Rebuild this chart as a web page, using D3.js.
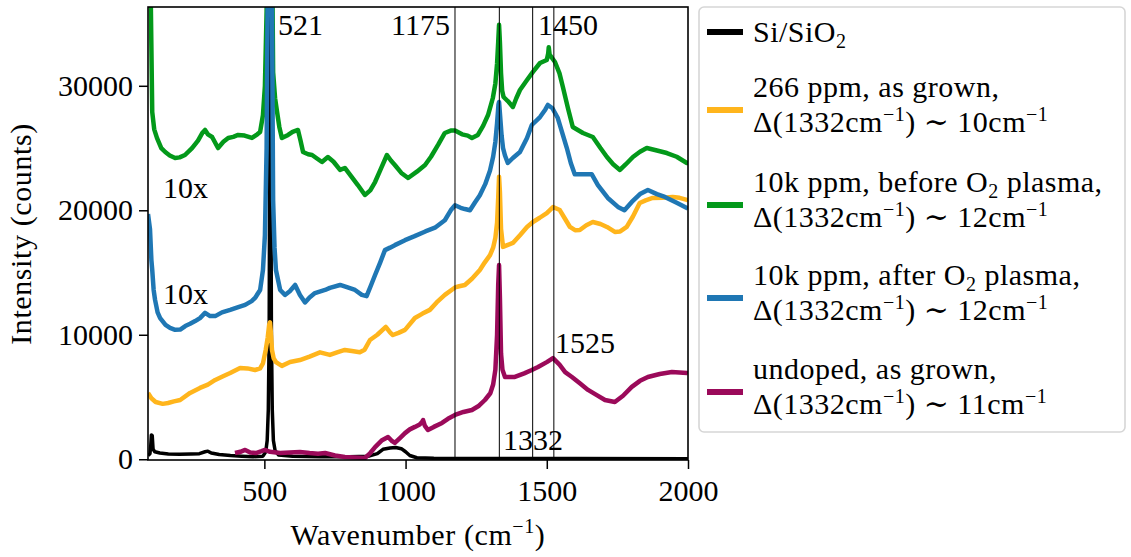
<!DOCTYPE html>
<html>
<head>
<meta charset="utf-8">
<script src="https://cdn.jsdelivr.net/npm/d3@7"></script>
<style>
  body { margin: 0; background: #fff; }
  text { font-family: "Liberation Serif", "DejaVu Serif", serif; fill: #000; }
</style>
</head>
<body>
<div id="chart"></div>
<script>
// spectra, [wavenumber, counts]
var siSiO2 = [[88,300],[95,450],[98,1200],[100,1950],[103,1900],[106,800],[112,600],[130,500],[160,430],[200,400],[240,420],[270,450],[290,600],[300,650],[312,500],[340,380],[380,300],[420,250],[460,200],[495,250],[505,600],[510,1500],[514,4000],[517,10000],[519,25000],[521,45000],[523,25000],[525,10000],[528,4000],[532,1500],[538,700],[550,350],[600,250],[700,200],[800,200],[870,250],[900,450],[920,800],[945,900],[965,950],[985,850],[1000,600],[1015,300],[1040,120],[1100,80],[1300,70],[1600,60],[2000,50]];

var ppm266 = [[88,5330],[100,4900],[115,4600],[140,4450],[159,4520],[180,4650],[202,4760],[237,5330],[272,5730],[300,6000],[326,6370],[352,6650],[379,6930],[414,7330],[440,7300],[467,7170],[485,7300],[495,7700],[505,8800],[512,9800],[517,10800],[520,11000],[523,10200],[527,8780],[533,8100],[541,7810],[562,7500],[591,7810],[626,7970],[660,8250],[697,8590],[732,8380],[760,8600],[785,8780],[810,8700],[838,8600],[855,8800],[874,9580],[900,10000],[930,10630],[945,10200],[955,9980],[975,10150],[998,10390],[1033,11350],[1060,11700],[1086,12000],[1110,12600],[1139,13200],[1175,13800],[1190,13900],[1210,14000],[1235,14500],[1263,15200],[1280,15800],[1299,16400],[1310,17000],[1318,17800],[1324,19000],[1328,21000],[1331,22700],[1334,21500],[1338,18500],[1345,17060],[1360,17200],[1380,17380],[1405,18000],[1430,18660],[1451,19060],[1475,19400],[1500,19780],[1522,20260],[1546,20020],[1565,19300],[1582,18660],[1600,18400],[1617,18420],[1640,18800],[1663,19060],[1690,18900],[1713,18660],[1741,18260],[1760,18300],[1783,18660],[1805,19500],[1829,20590],[1850,20800],[1875,20990],[1910,21000],[1946,21070],[1970,21000],[1996,20830],[2000,20800]];

var before10k = [[88,80000],[98,36500],[103,27900],[110,26500],[120,25800],[135,25000],[149,24680],[165,24400],[184,24200],[200,24250],[219,24440],[244,25000],[265,25600],[280,26200],[290,26450],[300,26100],[315,25890],[336,25000],[355,25500],[372,25810],[390,25900],[407,26050],[430,26000],[456,25810],[475,26100],[485,26290],[495,27650],[502,30000],[508,36000],[514,50000],[521,80000],[526,45000],[531,31100],[538,29000],[545,27900],[553,26700],[562,25800],[584,26050],[600,26300],[619,26450],[628,25600],[637,24680],[655,24500],[669,24440],[690,24100],[704,23880],[725,24280],[745,23900],[768,23240],[785,23400],[805,22800],[831,22030],[856,21230],[875,21600],[892,22270],[912,23300],[934,24440],[948,24000],[962,23640],[985,23000],[1009,22590],[1040,23100],[1069,23640],[1090,24300],[1115,25250],[1139,26210],[1160,26400],[1175,26400],[1200,26100],[1220,26000],[1235,25810],[1256,26050],[1275,26800],[1292,27650],[1309,29020],[1318,30200],[1324,31800],[1328,33500],[1331,34900],[1334,33500],[1338,31000],[1342,29600],[1347,29100],[1365,28700],[1380,28300],[1392,29000],[1405,29660],[1430,30470],[1451,31120],[1476,31830],[1500,32070],[1505,32600],[1507,33100],[1510,32500],[1529,31910],[1545,31000],[1557,29900],[1575,28200],[1592,26690],[1628,26210],[1663,25890],[1690,25000],[1713,24280],[1735,23700],[1759,23240],[1780,23700],[1805,24280],[1830,24700],[1854,25000],[1890,24800],[1925,24600],[1960,24300],[1996,23800],[2000,23800]];

var after10k = [[88,19700],[95,18500],[100,16000],[103,15200],[108,13600],[113,12800],[122,11800],[131,11340],[150,10800],[166,10560],[184,10400],[202,10420],[220,10700],[237,10880],[255,11100],[272,11340],[290,11760],[308,11500],[326,11500],[350,11800],[379,12000],[405,12200],[432,12400],[455,12700],[467,12960],[485,13600],[495,15200],[502,18000],[508,25000],[514,45000],[521,80000],[526,40000],[531,20800],[536,17000],[541,15200],[556,13600],[573,13200],[590,13500],[609,14000],[626,13200],[644,12600],[660,13000],[679,13350],[715,13600],[732,13770],[768,14000],[795,13800],[821,13600],[845,13200],[862,13100],[878,14000],[892,14800],[910,15800],[927,16800],[945,17000],[962,17200],[998,17600],[1030,17900],[1070,18300],[1104,18600],[1139,19200],[1160,20000],[1175,20400],[1195,20200],[1210,20100],[1228,20000],[1245,20600],[1263,21200],[1282,22100],[1299,23200],[1310,24300],[1318,25500],[1324,27000],[1329,28500],[1331,28700],[1334,27800],[1340,26000],[1345,25000],[1352,24400],[1362,23800],[1380,24200],[1405,24680],[1430,25800],[1447,26850],[1476,27490],[1495,28100],[1504,28460],[1520,28200],[1539,27410],[1555,26200],[1571,25000],[1585,23800],[1599,22900],[1630,22900],[1659,22900],[1681,22030],[1716,20990],[1752,20270],[1775,20000],[1801,20670],[1830,21300],[1858,21630],[1890,21300],[1918,21070],[1960,20600],[1996,20190],[2000,20150]];

var undoped = [[396,500],[415,600],[432,750],[450,550],[470,500],[490,650],[502,750],[520,600],[556,500],[590,550],[626,590],[660,500],[690,450],[715,500],[750,300],[785,180],[820,150],[856,100],[875,500],[892,980],[915,1500],[938,1790],[950,1500],[962,1310],[980,1700],[998,2100],[1015,2400],[1033,2600],[1050,2800],[1058,3000],[1062,3150],[1068,2700],[1079,2350],[1100,2600],[1129,2920],[1150,3250],[1175,3560],[1205,3800],[1235,3960],[1260,4300],[1281,4760],[1300,5300],[1310,6000],[1318,7200],[1324,10000],[1328,14000],[1331,15600],[1334,13000],[1338,8500],[1343,7200],[1352,6610],[1387,6610],[1420,6900],[1447,7170],[1469,7410],[1500,7800],[1522,8120],[1545,7600],[1565,7000],[1589,6610],[1617,6100],[1646,5570],[1677,5150],[1706,4760],[1741,4600],[1770,5100],[1801,5810],[1830,6300],[1858,6610],[1900,6850],[1943,7010],[1996,6930],[2000,6900]];

var peakLines = [1175, 1332, 1450, 1525];
var xTicks = [500, 1000, 1500, 2000];
var yTicks = [0, 10000, 20000, 30000];

var series = [
  { data: siSiO2, color: "#000000", lw: 3.5, lines: [["Si/SiO", "2", ""]] },
  { data: ppm266, color: "#ffb51c", lw: 4.5, lines: [["266 ppm, as grown,"], ["Δ", "10"]] },
  { data: before10k, color: "#03991a", lw: 4.5, lines: [["10k ppm, before O", "2", " plasma,"], ["Δ", "12"]] },
  { data: after10k, color: "#1f77b4", lw: 4.5, lines: [["10k ppm, after O", "2", " plasma,"], ["Δ", "12"]] },
  { data: undoped, color: "#9b0a5a", lw: 4.5, lines: [["undoped, as grown,"], ["Δ", "11"]] }
];

var width = 1131, height = 557;
var margin = { left: 148, right: 688, top: 7, bottom: 460 };
var fs = 30, fsSmall = 20;

var svg = d3.select("#chart").append("svg")
  .attr("width", width)
  .attr("height", height);

var x = d3.scaleLinear().domain([88, 2000]).range([margin.left, margin.right]);
var y = d3.scaleLinear().domain([-60, 36330]).range([margin.bottom, margin.top]);

svg.append("clipPath").attr("id", "clip")
  .append("rect")
  .attr("x", margin.left).attr("y", margin.top)
  .attr("width", margin.right - margin.left).attr("height", margin.bottom - margin.top);

var plot = svg.append("g").attr("clip-path", "url(#clip)");

var line = d3.line()
  .x(d => x(d[0]))
  .y(d => y(d[1]));

series.forEach(function(s) {
  plot.append("path")
    .datum(s.data)
    .attr("d", line)
    .attr("fill", "none")
    .attr("stroke", s.color)
    .attr("stroke-width", s.lw)
    .attr("stroke-linejoin", "round");
});

// thin reference lines
plot.selectAll(".peak")
  .data(peakLines)
  .enter()
  .append("line")
  .attr("x1", d => x(d)).attr("x2", d => x(d))
  .attr("y1", margin.top).attr("y2", margin.bottom)
  .attr("stroke", "#000")
  .attr("stroke-width", 1);

// axes
var xAxis = svg.append("g")
  .attr("transform", "translate(0," + margin.bottom + ")")
  .call(d3.axisBottom(x).tickValues(xTicks).tickSize(9).tickPadding(6).tickFormat(d3.format("d")));
var yAxis = svg.append("g")
  .attr("transform", "translate(" + margin.left + ",0)")
  .call(d3.axisLeft(y).tickValues(yTicks).tickSize(9).tickPadding(6).tickFormat(d3.format("d")));

[xAxis, yAxis].forEach(function(a) {
  a.select(".domain").remove();
  a.selectAll(".tick line").attr("stroke", "#000").attr("stroke-width", 1.5);
  a.selectAll(".tick text").style("font-size", fs + "px").attr("fill", "#000")
    .style("font-family", "Liberation Serif, DejaVu Serif, serif");
});
xAxis.selectAll(".tick text").attr("dy", "0.85em");

svg.append("rect")
  .attr("x", margin.left).attr("y", margin.top)
  .attr("width", margin.right - margin.left).attr("height", margin.bottom - margin.top)
  .attr("fill", "none")
  .attr("stroke", "#000")
  .attr("stroke-width", 1.6);

// axis labels
var xl = svg.append("text")
  .attr("x", 418).attr("y", 545)
  .attr("text-anchor", "middle")
  .style("font-size", fs + "px")
  .style("letter-spacing", "0.6px");
xl.append("tspan").text("Wavenumber (cm");
xl.append("tspan").attr("dy", -12).style("font-size", fsSmall + "px").text("−1");
xl.append("tspan").attr("dy", 12).text(")");

svg.append("text")
  .attr("transform", "translate(31,234) rotate(-90)")
  .attr("text-anchor", "middle")
  .style("font-size", fs + "px")
  .style("letter-spacing", "0.6px")
  .text("Intensity (counts)");

// annotations
var notes = [
  { t: "521", x: 278, y: 35, a: "start" },
  { t: "1175", x: 450, y: 35, a: "end" },
  { t: "1450", x: 538, y: 35, a: "start" },
  { t: "1525", x: 555, y: 353, a: "start" },
  { t: "1332", x: 503, y: 450, a: "start" },
  { t: "10x", x: 163, y: 198, a: "start" },
  { t: "10x", x: 163, y: 304, a: "start" }
];
svg.selectAll(".note")
  .data(notes)
  .enter()
  .append("text")
  .attr("x", d => d.x).attr("y", d => d.y)
  .attr("text-anchor", d => d.a)
  .style("font-size", fs + "px")
  .text(d => d.t);

// legend
var lg = svg.append("g");
lg.append("rect")
  .attr("x", 699).attr("y", 7)
  .attr("width", 426).attr("height", 425)
  .attr("rx", 5)
  .attr("fill", "#fff")
  .attr("stroke", "#d6d6d6")
  .attr("stroke-width", 1.6);

var handleY = [32, 110, 205, 298, 392];

series.forEach(function(s, i) {
  var hy = handleY[i];
  lg.append("line")
    .attr("x1", 707).attr("x2", 743)
    .attr("y1", hy).attr("y2", hy)
    .attr("stroke", s.color)
    .attr("stroke-width", 6);

  s.lines.forEach(function(ln, j) {
    var base = s.lines.length === 1 ? hy + 10 : (j === 0 ? hy - 13 : hy + 22);
    var t = lg.append("text")
      .attr("x", 753).attr("y", base)
      .style("font-size", fs + "px")
      .style("letter-spacing", "0.5px");
    if (ln[0] === "Δ") {
      t.append("tspan").text("Δ(1332cm");
      t.append("tspan").attr("dy", -11).style("font-size", fsSmall + "px").text("−1");
      t.append("tspan").attr("dy", 11).text(") ∼ " + ln[1] + "cm");
      t.append("tspan").attr("dy", -11).style("font-size", fsSmall + "px").text("−1");
    } else {
      t.append("tspan").text(ln[0]);
      if (ln.length > 1) {
        t.append("tspan").attr("dy", 6).style("font-size", fsSmall + "px").text(ln[1]);
        t.append("tspan").attr("dy", -6).text(ln[2]);
      }
    }
  });
});
</script>
</body>
</html>
